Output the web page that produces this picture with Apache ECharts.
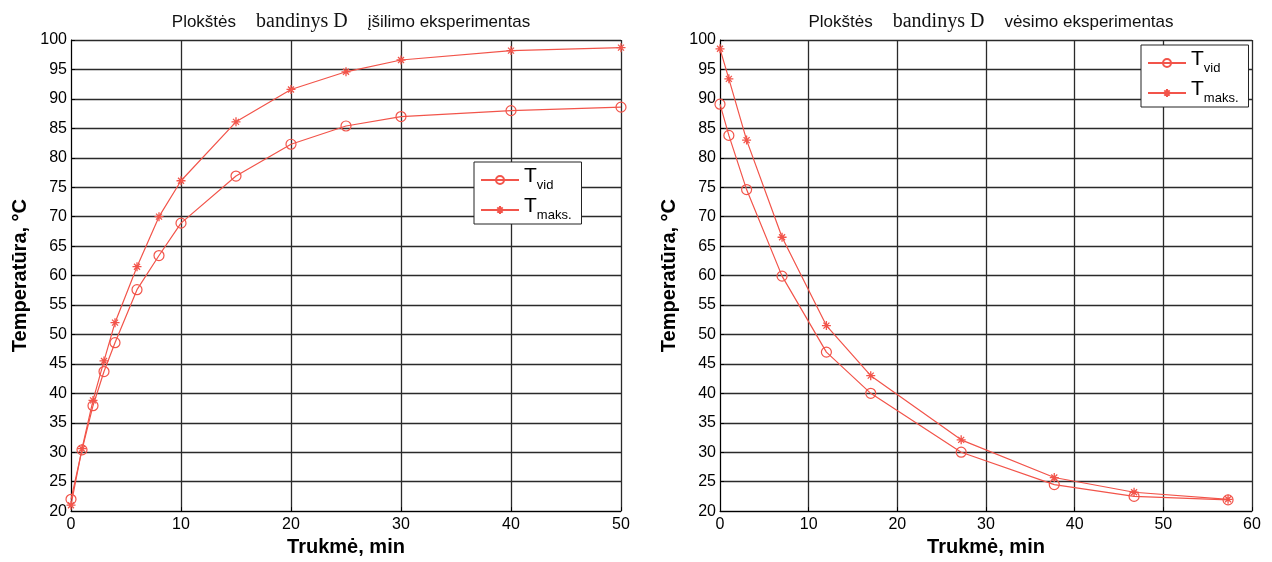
<!DOCTYPE html>
<html>
<head>
<meta charset="utf-8">
<script src="https://cdn.jsdelivr.net/npm/echarts@6/dist/echarts.min.js"></script>
<style>
  html, body { margin: 0; padding: 0; background: #fff; }
  #chart { width: 1272px; height: 562px; }
</style>
</head>
<body>
<div id="chart"></div>
<script>
// Heating experiment (minutes, °C)
const heatTime = [0, 1, 2, 3, 4, 6, 8, 10, 15, 20, 25, 30, 40, 50];
const heatAvg  = [22, 30.4, 37.9, 43.7, 48.6, 57.6, 63.4, 68.9, 76.9, 82.3, 85.4, 87.0, 88.0, 88.6];
const heatMax  = [21, 30.6, 38.8, 45.5, 52.0, 61.5, 70.0, 76.1, 86.1, 91.6, 94.6, 96.6, 98.2, 98.7];

// Cooling experiment (minutes, °C)
const coolTime = [0, 1, 3, 7, 12, 17, 27.2, 37.7, 46.7, 57.3];
const coolAvg  = [89.1, 83.8, 74.6, 59.9, 47.0, 40.0, 30.0, 24.5, 22.5, 21.9];
const coolMax  = [98.5, 93.4, 83.0, 66.5, 51.5, 43.0, 32.1, 25.7, 23.2, 22.0];

const titles = ['įšilimo eksperimentas', 'vėsimo eksperimentas'];
const xName = 'Trukmė, min';
const yName = 'Temperatūra, °C';

const RED = '#f2544a';
const FONT = '"Liberation Sans", Arial, sans-serif';
const STAR = 'path://M0,-6L0,6M-6,0L6,0M-4,-4L4,4M-4,4L4,-4';

const pairs = (xs, ys) => xs.map((x, i) => [x, ys[i]]);

function titleOpt(center, label) {
  return {
    left: center, top: 7, textAlign: 'center',
    text: '{a|Plokštės}\u00a0\u00a0\u00a0\u00a0{b|bandinys D}\u00a0\u00a0\u00a0\u00a0{a|' + label + '}',
    textStyle: {
      fontWeight: 'normal',
      rich: {
        a: { fontFamily: FONT, fontSize: 17, fontWeight: 'normal', color: '#111' },
        b: { fontFamily: '"Liberation Serif", "Times New Roman", serif', fontSize: 20, fontWeight: 'normal', color: '#111' }
      }
    }
  };
}

function xAxisOpt(grid, max) {
  return {
    type: 'value', gridIndex: grid, min: 0, max: max, interval: 10,
    name: xName, nameLocation: 'middle', nameGap: 25,
    nameTextStyle: { fontFamily: FONT, fontSize: 20, fontWeight: 'bold', color: '#000' },
    axisLine: { show: true, onZero: false, lineStyle: { color: '#000', width: 1 } },
    axisTick: { show: true, inside: true, length: 4, lineStyle: { color: '#000' } },
    axisLabel: { fontFamily: FONT, fontSize: 16, color: '#000', margin: 5 },
    splitLine: { show: true, lineStyle: { color: '#2a2a2a', width: 1.3 } }
  };
}

function yAxisOpt(grid) {
  return {
    type: 'value', gridIndex: grid, min: 20, max: 100, interval: 5,
    name: yName, nameLocation: 'middle', nameGap: 41,
    nameTextStyle: { fontFamily: FONT, fontSize: 20, fontWeight: 'bold', color: '#000' },
    axisLine: { show: true, onZero: false, lineStyle: { color: '#000', width: 1 } },
    axisTick: { show: true, inside: true, length: 4, lineStyle: { color: '#000' } },
    axisLabel: { fontFamily: FONT, fontSize: 16, color: '#000', margin: 4 },
    splitLine: { show: true, lineStyle: { color: '#2a2a2a', width: 1.3 } }
  };
}

function lineSeries(name, grid, data, isMax) {
  return {
    type: 'line', name: name, xAxisIndex: grid, yAxisIndex: grid,
    data: data,
    symbol: isMax ? STAR : 'circle',
    symbolSize: isMax ? 9 : 10,
    showAllSymbol: true,
    lineStyle: { color: RED, width: 1.2 },
    itemStyle: isMax
      ? { color: RED, borderColor: RED, borderWidth: 1.3 }
      : { color: 'rgba(255,255,255,0)', borderColor: RED, borderWidth: 1.2 },
    animation: false
  };
}

function legendOpt(left, top, names) {
  return {
    orient: 'vertical', left: left, top: top,
    data: names,
    backgroundColor: '#fff', borderColor: '#222', borderWidth: 1,
    padding: [4, 10, 2, 6], itemGap: 4, itemWidth: 38, itemHeight: 10,
    formatter: n => '{t|T}{s|' + n.split('_')[1] + '}',
    textStyle: {
      rich: {
        t: { fontFamily: FONT, fontSize: 21, color: '#000', lineHeight: 28, verticalAlign: 'top' },
        s: { fontFamily: FONT, fontSize: 13, color: '#000', lineHeight: 28, padding: [13, 0, 0, 0], verticalAlign: 'top' }
      }
    }
  };
}

const chart = echarts.init(document.getElementById('chart'));
chart.setOption({
  backgroundColor: '#fff',
  animation: false,
  title: [titleOpt(346, titles[0]), titleOpt(986, titles[1])],
  grid: [
    { left: 71, right: 651, top: 40, bottom: 46 },
    { left: 720, right: 20, top: 40, bottom: 46 }
  ],
  xAxis: [xAxisOpt(0, 50), xAxisOpt(1, 60)],
  yAxis: [yAxisOpt(0), yAxisOpt(1)],
  legend: [
    legendOpt(474, 162, ['h_vid', 'h_maks.']),
    legendOpt(1141, 45, ['c_vid', 'c_maks.'])
  ],
  series: [
    lineSeries('h_vid', 0, pairs(heatTime, heatAvg), false),
    lineSeries('h_maks.', 0, pairs(heatTime, heatMax), true),
    lineSeries('c_vid', 1, pairs(coolTime, coolAvg), false),
    lineSeries('c_maks.', 1, pairs(coolTime, coolMax), true)
  ]
});
</script>
</body>
</html>
